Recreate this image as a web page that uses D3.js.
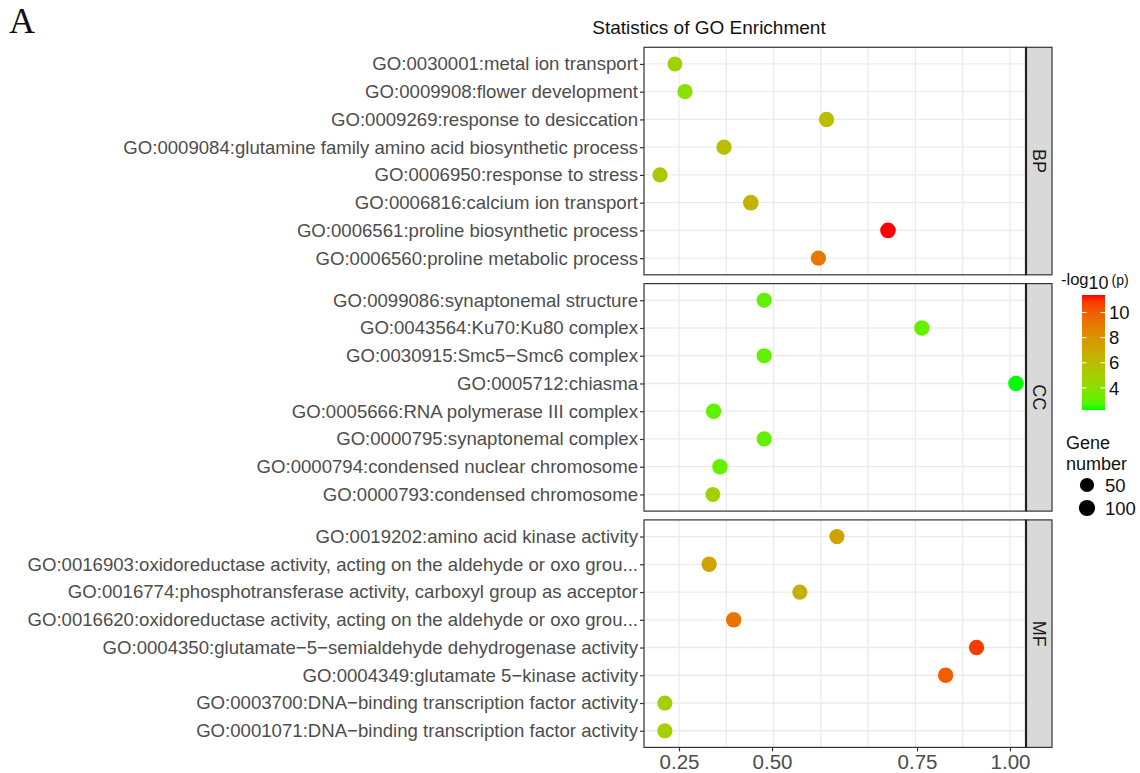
<!DOCTYPE html>
<html>
<head>
<meta charset="utf-8">
<script src="https://cdn.jsdelivr.net/npm/d3@7"></script>
<style>
	body { margin: 0; background: #fff; }
</style>
</head>
<body>
<script>
// categories (top to bottom inside each facet)
const ontologies = ["BP", "CC", "MF"];

const bpTerms = [
	"GO:0030001:metal ion transport",
	"GO:0009908:flower development",
	"GO:0009269:response to desiccation",
	"GO:0009084:glutamine family amino acid biosynthetic process",
	"GO:0006950:response to stress",
	"GO:0006816:calcium ion transport",
	"GO:0006561:proline biosynthetic process",
	"GO:0006560:proline metabolic process"
];
const ccTerms = [
	"GO:0099086:synaptonemal structure",
	"GO:0043564:Ku70:Ku80 complex",
	"GO:0030915:Smc5\u2212Smc6 complex",
	"GO:0005712:chiasma",
	"GO:0005666:RNA polymerase III complex",
	"GO:0000795:synaptonemal complex",
	"GO:0000794:condensed nuclear chromosome",
	"GO:0000793:condensed chromosome"
];
const mfTerms = [
	"GO:0019202:amino acid kinase activity",
	"GO:0016903:oxidoreductase activity, acting on the aldehyde or oxo grou...",
	"GO:0016774:phosphotransferase activity, carboxyl group as acceptor",
	"GO:0016620:oxidoreductase activity, acting on the aldehyde or oxo grou...",
	"GO:0004350:glutamate\u22125\u2212semialdehyde dehydrogenase activity",
	"GO:0004349:glutamate 5\u2212kinase activity",
	"GO:0003700:DNA\u2212binding transcription factor activity",
	"GO:0001071:DNA\u2212binding transcription factor activity"
];

// rich factor (x)
const bpRatio = [0.239, 0.266, 0.594, 0.371, 0.199, 0.443, 0.700, 0.580];
const ccRatio = [0.479, 0.763, 0.479, 1.016, 0.343, 0.479, 0.360, 0.341];
const mfRatio = [0.612, 0.331, 0.548, 0.397, 0.910, 0.827, 0.212, 0.212];

// -log10(p) (colour)
const bpLogP = [4.7, 4.0, 5.9, 5.8, 5.4, 6.5, 11.4, 9.1];
const ccLogP = [3.1, 3.2, 3.1, 2.24, 3.0, 3.1, 3.2, 5.0];
const mfLogP = [7.3, 7.2, 6.6, 9.2, 10.8, 10.0, 5.0, 5.0];

// gene number (size)
const bpGenes = [70, 75, 80, 80, 75, 85, 85, 75];
const ccGenes = [75, 80, 75, 85, 80, 75, 80, 70];
const mfGenes = [75, 80, 75, 80, 80, 80, 75, 75];

const xTicks = [0.25, 0.50, 0.75, 1.00];
const colourTicks = [4, 6, 8, 10];
const sizeLegend = [50, 100];

const termsBy = { BP: bpTerms, CC: ccTerms, MF: mfTerms };
const ratioBy = { BP: bpRatio, CC: ccRatio, MF: mfRatio };
const logPBy = { BP: bpLogP, CC: ccLogP, MF: mfLogP };
const genesBy = { BP: bpGenes, CC: ccGenes, MF: mfGenes };

const width = 1140;
const height = 773;
const sans = "'Liberation Sans', Arial, sans-serif";

const panelLeft = 644;
const panelRight = 1026;
const stripW = 26;
const panelTop = 47.3;
const panelH = 227.5;
const panelGap = 8.8;

const svg = d3.select("body").append("svg")
	.attr("width", width)
	.attr("height", height)
	.style("font-family", sans);

// the printed axis is not evenly spaced, so the scale follows the labels
const x = d3.scaleLinear()
	.domain(xTicks)
	.range([679, 772, 917, 1010]);

const allLogP = [].concat(bpLogP, ccLogP, mfLogP);
const colour = d3.scaleLinear()
	.domain(d3.extent(allLogP))
	.range(["#00ff00", "#ff0000"])
	.interpolate(d3.interpolateLab);

const size = d3.scaleLinear().domain([50, 100]).range([7.1, 8.1]);

// vertical grid lines, evenly spaced between first and last label
const gridX = d3.range(8).map(i => x(xTicks[0]) + i * (x(xTicks[3]) - x(xTicks[0])) / 7);

ontologies.forEach((ont, k) => {
	const top = panelTop + k * (panelH + panelGap);
	const y = d3.scalePoint()
		.domain(termsBy[ont])
		.range([top, top + panelH])
		.padding(0.6);

	const g = svg.append("g");

	g.append("rect")
		.attr("x", panelLeft).attr("y", top)
		.attr("width", panelRight - panelLeft).attr("height", panelH)
		.attr("fill", "#fff");

	g.selectAll("line.vgrid")
		.data(gridX)
		.join("line")
		.attr("x1", d => d).attr("x2", d => d)
		.attr("y1", top).attr("y2", top + panelH)
		.attr("stroke", "#ebebeb").attr("stroke-width", 1.3);

	g.selectAll("line.hgrid")
		.data(termsBy[ont])
		.join("line")
		.attr("x1", panelLeft).attr("x2", panelRight)
		.attr("y1", d => y(d)).attr("y2", d => y(d))
		.attr("stroke", "#ebebeb").attr("stroke-width", 1.3);

	const pts = termsBy[ont].map((t, i) => ({
		term: t,
		ratio: ratioBy[ont][i],
		logp: logPBy[ont][i],
		genes: genesBy[ont][i]
	}));

	g.selectAll("circle")
		.data(pts)
		.join("circle")
		.attr("cx", d => x(d.ratio))
		.attr("cy", d => y(d.term))
		.attr("r", d => size(d.genes))
		.attr("fill", d => colour(d.logp));

	g.append("rect")
		.attr("x", panelLeft).attr("y", top)
		.attr("width", panelRight - panelLeft).attr("height", panelH)
		.attr("fill", "none").attr("stroke", "#333").attr("stroke-width", 1.2);

	// facet strip
	g.append("rect")
		.attr("x", panelRight).attr("y", top)
		.attr("width", stripW).attr("height", panelH)
		.attr("fill", "#d9d9d9").attr("stroke", "#333").attr("stroke-width", 1.2);
	g.append("line")
		.attr("x1", panelRight).attr("x2", panelRight)
		.attr("y1", top).attr("y2", top + panelH)
		.attr("stroke", "#222").attr("stroke-width", 2.2);
	g.append("text")
		.attr("transform", `translate(${panelRight + stripW / 2 - 6}, ${top + panelH / 2}) rotate(90)`)
		.attr("text-anchor", "middle")
		.attr("font-size", 18)
		.attr("fill", "#1a1a1a")
		.text(ont);

	// y axis
	const ay = g.append("g")
		.attr("transform", `translate(${panelLeft}, 0)`)
		.call(d3.axisLeft(y).tickSize(4).tickPadding(2));
	ay.select(".domain").remove();
	ay.selectAll("line").attr("stroke", "#333").attr("stroke-width", 1.2);
	ay.selectAll("text")
		.attr("font-family", sans)
		.attr("font-size", 18.6)
		.attr("fill", "#4d4d4d");

	if (k === ontologies.length - 1) {
		const ax = g.append("g")
			.attr("transform", `translate(0, ${top + panelH})`)
			.call(d3.axisBottom(x).tickValues(xTicks).tickFormat(d3.format(".2f")).tickSize(4).tickPadding(3));
		ax.select(".domain").remove();
		ax.selectAll("line").attr("stroke", "#333").attr("stroke-width", 1.2);
		ax.selectAll("text")
			.attr("font-family", sans)
			.attr("font-size", 20.5)
			.attr("fill", "#4d4d4d");
	}
});

// panel label and title
svg.append("text")
	.attr("x", 9).attr("y", 33)
	.style("font-family", "'Liberation Serif', 'Times New Roman', serif")
	.attr("font-size", 36)
	.attr("fill", "#111")
	.text("A");

svg.append("text")
	.attr("x", 709).attr("y", 34)
	.attr("text-anchor", "middle")
	.attr("font-size", 19)
	.attr("fill", "#111")
	.text("Statistics of GO Enrichment");

// colour legend
const legTitle = svg.append("text")
	.attr("x", 1061).attr("y", 285)
	.attr("fill", "#111");
legTitle.append("tspan").attr("font-size", 16.5).text("-log");
legTitle.append("tspan").attr("font-size", 18).attr("dy", 4).text("10");
legTitle.append("tspan").attr("font-size", 14).attr("dx", 3).attr("dy", -4).text("(p)");

const barX = 1082, barW = 23, barTop = 295, barBot = 410;
const cy = d3.scaleLinear().domain(colour.domain()).range([barBot, barTop]);

const grad = svg.append("defs").append("linearGradient")
	.attr("id", "lp").attr("x1", 0).attr("y1", 1).attr("x2", 0).attr("y2", 0);
d3.range(0, 1.0001, 0.05).forEach(t => {
	const v = colour.domain()[0] + t * (colour.domain()[1] - colour.domain()[0]);
	grad.append("stop").attr("offset", t).attr("stop-color", colour(v));
});
svg.append("rect")
	.attr("x", barX).attr("y", barTop)
	.attr("width", barW).attr("height", barBot - barTop)
	.attr("fill", "url(#lp)");

const cTicks = svg.append("g");
cTicks.selectAll("line.l")
	.data(colourTicks).join("line")
	.attr("x1", barX).attr("x2", barX + 4.5)
	.attr("y1", d => cy(d)).attr("y2", d => cy(d))
	.attr("stroke", "#fff").attr("stroke-width", 1);
cTicks.selectAll("line.r")
	.data(colourTicks).join("line")
	.attr("x1", barX + barW - 4.5).attr("x2", barX + barW)
	.attr("y1", d => cy(d)).attr("y2", d => cy(d))
	.attr("stroke", "#fff").attr("stroke-width", 1);
cTicks.selectAll("text")
	.data(colourTicks).join("text")
	.attr("x", barX + barW + 4)
	.attr("y", d => cy(d))
	.attr("dy", "0.36em")
	.attr("font-size", 18.5)
	.attr("fill", "#111")
	.text(d => d);

// size legend
svg.append("text")
	.attr("x", 1066).attr("y", 449)
	.attr("font-size", 18).attr("fill", "#111")
	.text("Gene");
svg.append("text")
	.attr("x", 1066).attr("y", 470)
	.attr("font-size", 18).attr("fill", "#111")
	.text("number");

const sLeg = svg.append("g").selectAll("g")
	.data(sizeLegend).join("g")
	.attr("transform", (d, i) => `translate(1087, ${485 + i * 23})`);
sLeg.append("circle")
	.attr("r", d => size(d))
	.attr("fill", "#000");
sLeg.append("text")
	.attr("x", 18)
	.attr("dy", "0.36em")
	.attr("font-size", 18.5)
	.attr("fill", "#111")
	.text(d => d);
</script>
</body>
</html>
